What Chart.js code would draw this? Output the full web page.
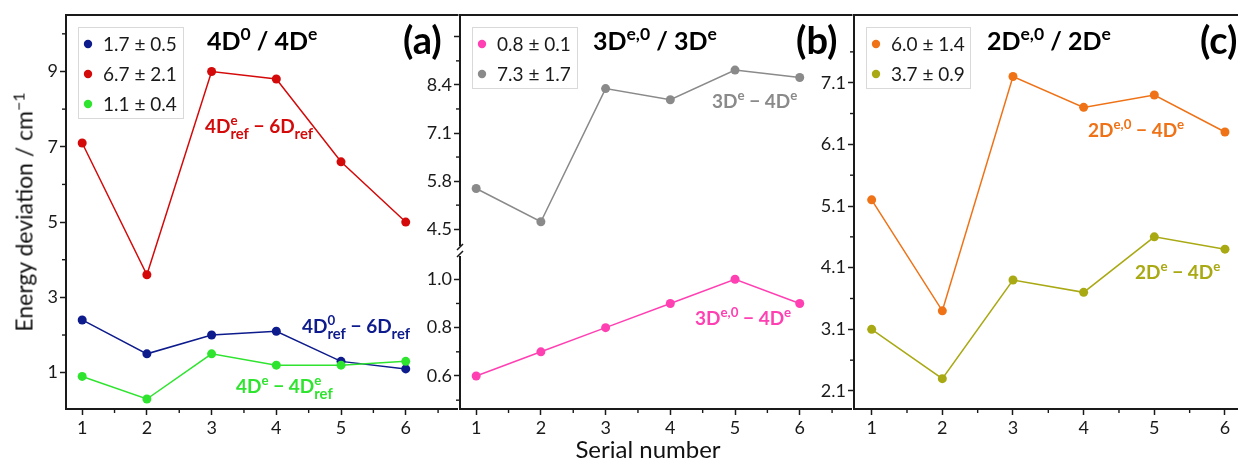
<!DOCTYPE html>
<html>
<head>
<meta charset="utf-8">
<script src="https://cdn.jsdelivr.net/npm/chart.js@4.4.1/dist/chart.umd.min.js"></script>
<style>
  body { margin: 0; width: 1238px; height: 460px; overflow: hidden; position: relative; background: #fff; font-family: Lato, sans-serif; color: #111; }
  canvas { position: absolute; top: 0; }
  #ytitle { position: absolute; left: 24px; top: 212px; transform: translate(-50%, -50%) rotate(-90deg); white-space: nowrap; font-size: 23px; line-height: 23px; }
  #ytitle sup { font-size: 16px; vertical-align: 8px; line-height: 0; }
  #xtitle { position: absolute; left: 648px; top: 437px; transform: translateX(-50%); white-space: nowrap; font-size: 24px; line-height: 24px; }
</style>
</head>
<body>
<canvas id="pa" width="462" height="460" style="left:0"></canvas>
<canvas id="pb" width="446" height="460" style="left:410px"></canvas>
<canvas id="pc" width="482" height="460" style="left:804px"></canvas>
<div id="ytitle">Energy deviation / cm<sup>−1</sup></div>
<div id="xtitle">Serial number</div>
<script>
// serial numbers shared by all three panels
const SERIAL = [1, 2, 3, 4, 5, 6];

// (a) 4D0 / 4De
const A_NAVY = [2.4, 1.5, 2.0, 2.1, 1.3, 1.1];
const A_RED = [7.1, 3.6, 9.0, 8.8, 6.6, 5.0];
const A_GREEN = [0.9, 0.3, 1.5, 1.2, 1.2, 1.3];
const A_LEGEND = ["1.7 ± 0.5", "6.7 ± 2.1", "1.1 ± 0.4"];
const A_TICKS = [1, 3, 5, 7, 9];

// (b) 3De,0 / 3De  (broken axis: lower and upper ranges)
const B_PINK = [0.6, 0.7, 0.8, 0.9, 1.0, 0.9];
const B_GRAY = [5.6, 4.7, 8.3, 8.0, 8.8, 8.6];
const B_LEGEND = ["0.8 ± 0.1", "7.3 ± 1.7"];
const B_TICKS_TOP = [4.5, 5.8, 7.1, 8.4, 9.7];
const B_LABELS_TOP = ["4.5", "5.8", "7.1", "8.4", ""];
const B_TICKS_BOT = [0.6, 0.8, 1.0];

// (c) 2De,0 / 2De
const C_ORANGE = [5.2, 3.4, 7.2, 6.7, 6.9, 6.3];
const C_OLIVE = [3.1, 2.3, 3.9, 3.7, 4.6, 4.4];
const C_LEGEND = ["6.0 ± 1.4", "3.7 ± 0.9"];
const C_TICKS = [2.1, 3.1, 4.1, 5.1, 6.1, 7.1];

const INK = "#1a1a1a";
const NAVY = "#0d1b8c", RED = "#d40a0a", GREEN = "#2fe42f";
const PINK = "#ff40b2", GRAY = "#8a8a8a", ORANGE = "#ef7217", OLIVE = "#a9a914";
const FONT = "Lato, 'Open Sans', sans-serif";

Chart.defaults.font.family = FONT;
Chart.defaults.color = INK;

const pts = (ys) => ys.map((y, i) => ({ x: SERIAL[i], y }));
// midpoints between major ticks, kept inside [lo, hi]
function mids(t, lo, hi) {
  const step = t[1] - t[0], out = [];
  for (let v = t[0] - step / 2; v <= hi + 1e-9; v += step) if (v >= lo) out.push(+v.toFixed(3));
  return out;
}

// text with ^{sup} and _{sub}; a sub right after a sup is stacked under it
function drawRich(ctx, x, y, s, size, weight, color) {
  const parts = [];
  const re = /\^\{([^}]*)\}|_\{([^}]*)\}|([^^_]+)/g;
  let m;
  while ((m = re.exec(s))) {
    if (m[1] !== undefined) parts.push({ t: m[1], k: "sup" });
    else if (m[2] !== undefined) parts.push({ t: m[2], k: "sub" });
    else parts.push({ t: m[3], k: "n" });
  }
  ctx.save();
  ctx.fillStyle = color;
  ctx.textAlign = "left";
  ctx.textBaseline = "alphabetic";
  let cx = x, lastSupW = 0;
  parts.forEach((p, i) => {
    const fs = p.k === "n" ? size : p.k === "sup" ? size * 0.7 : size * 0.78;
    ctx.font = `${weight} ${fs}px ${FONT}`;
    const w = ctx.measureText(p.t).width;
    if (p.k === "sub" && i > 0 && parts[i - 1].k === "sup") {
      const sx = cx - lastSupW;
      ctx.fillText(p.t, sx, y + size * 0.3);
      cx = sx + Math.max(w, lastSupW);
      return;
    }
    const dy = p.k === "sup" ? -size * 0.42 : p.k === "sub" ? size * 0.3 : 0;
    ctx.fillText(p.t, cx, y + dy);
    cx += w;
    if (p.k === "sup") lastSupW = w;
  });
  ctx.restore();
}

// inline plugin: top frame line, minor ticks, legend box, labels
function decor({ minors, legend, texts, breakAxis }) {
  return {
    id: "decor",
    beforeDatasetsDraw(chart) {
      const { ctx, chartArea: ca } = chart;
      ctx.save();
      ctx.strokeStyle = INK;
      ctx.lineWidth = 2;
      ctx.beginPath();
      ctx.moveTo(ca.left - 1, ca.top);
      ctx.lineTo(ca.right + 1, ca.top);
      ctx.stroke();
      ctx.lineWidth = 1.4;
      for (const [id, vals] of minors) {
        const s = chart.scales[id];
        for (const v of vals) {
          const p = s.getPixelForValue(v);
          ctx.beginPath();
          if (s.isHorizontal()) { ctx.moveTo(p, s.top); ctx.lineTo(p, s.top + 4); }
          else { ctx.moveTo(s.right, p); ctx.lineTo(s.right - 4, p); }
          ctx.stroke();
        }
      }
      ctx.restore();
    },
    afterDatasetsDraw(chart) {
      const { ctx, chartArea: ca } = chart;
      // legend box
      const lx = ca.left + 12, ly = ca.top + 12;
      const lh = legend.items.length * 30 + 1;
      ctx.save();
      ctx.fillStyle = "#fff";
      ctx.strokeStyle = "#d9d9d9";
      ctx.lineWidth = 1;
      ctx.fillRect(lx, ly, legend.w, lh);
      ctx.strokeRect(lx + 0.5, ly + 0.5, legend.w, lh);
      legend.items.forEach((it, i) => {
        const cy = ly + 17 + i * 30;
        ctx.fillStyle = it.color;
        ctx.beginPath();
        ctx.arc(lx + 10, cy, 4.2, 0, Math.PI * 2);
        ctx.fill();
        ctx.fillStyle = INK;
        ctx.font = `19px ${FONT}`;
        ctx.textBaseline = "middle";
        ctx.fillText(it.label, lx + 25, cy + 1);
      });
      ctx.restore();
      for (const t of texts) drawRich(ctx, ca.left + t.dx, ca.top + t.dy, t.s, t.size, "bold", t.color);
    },
    afterDraw(chart) {
      if (!breakAxis) return;
      const { ctx, chartArea: ca } = chart;
      const y = chart.scales[breakAxis].bottom;
      const x = ca.left;
      ctx.save();
      ctx.fillStyle = "#fff";
      ctx.fillRect(x - 3, y - 5, 6, 10);
      ctx.strokeStyle = INK;
      ctx.lineWidth = 1.5;
      ctx.beginPath();
      ctx.moveTo(x - 3, y - 1); ctx.lineTo(x + 3, y - 7);
      ctx.moveTo(x - 3, y + 6); ctx.lineTo(x + 3, y);
      ctx.stroke();
      ctx.restore();
    }
  };
}

const tickFont = { size: 18, family: FONT };
const yAxis = (min, max, ticks, labels, width, extra = {}) => ({
  type: "linear",
  min, max,
  afterBuildTicks: (s) => { s.ticks = ticks.map((v) => ({ value: v })); },
  afterFit: (s) => { s.width = width; },
  ticks: { font: tickFont, color: INK, padding: 2, autoSkip: false, callback: (v, i) => labels[i] },
  grid: { drawOnChartArea: false, drawTicks: true, tickLength: 6, tickWidth: 1.5, tickColor: INK },
  border: { display: true, color: INK, width: 2 },
  ...extra
});
const xAxis = {
  type: "linear",
  min: 0.75, max: 6.8,
  afterBuildTicks: (s) => { s.ticks = SERIAL.map((v) => ({ value: v })); },
  afterFit: (s) => { s.height = 51; },
  ticks: { font: tickFont, color: INK, padding: 2, autoSkip: false, maxRotation: 0, callback: (v) => String(v) },
  grid: { drawOnChartArea: false, drawTicks: true, tickLength: 6, tickWidth: 1.5, tickColor: INK },
  border: { display: true, color: INK, width: 2 }
};
const line = (data, color, extra = {}) => ({
  data: pts(data),
  borderColor: color,
  backgroundColor: color,
  borderWidth: 1.5,
  pointRadius: 4.5,
  pointBorderWidth: 0,
  pointHoverRadius: 4.5,
  ...extra
});
const baseOptions = (scales) => ({
  responsive: false,
  animation: false,
  layout: { padding: { top: 15, right: 2, left: 0, bottom: 0 } },
  plugins: { legend: { display: false }, tooltip: { enabled: false } },
  scales
});

// ---- (a) ----
new Chart(document.getElementById("pa"), {
  type: "line",
  data: {
    datasets: [
      line(A_GREEN, GREEN, { order: 0 }),
      line(A_NAVY, NAVY, { order: 1 }),
      line(A_RED, RED, { order: 2 })
    ]
  },
  options: baseOptions({
    x: xAxis,
    y: yAxis(0.035, 10.5, A_TICKS, A_TICKS.map(String), 66)
  }),
  plugins: [decor({
    minors: [["x", mids(SERIAL, 0.75, 6.8)], ["y", mids(A_TICKS, 0.035, 10.5)]],
    legend: { w: 105, items: [
      { color: NAVY, label: A_LEGEND[0] },
      { color: RED, label: A_LEGEND[1] },
      { color: GREEN, label: A_LEGEND[2] }
    ] },
    texts: [
      { s: "4D^{0} / 4D^{e}", dx: 141, dy: 35, size: 25, color: "#000" },
      { s: "(a)", dx: 337, dy: 39, size: 38, color: "#000" },
      { s: "4D^{e}_{ref} − 6D_{ref}", dx: 139, dy: 118, size: 19, color: RED },
      { s: "4D^{0}_{ref} − 6D_{ref}", dx: 236, dy: 318, size: 19, color: NAVY },
      { s: "4D^{e} − 4D^{e}_{ref}", dx: 170, dy: 378, size: 19, color: GREEN }
    ]
  })]
});

// ---- (b) broken y axis: two stacked scales ----
new Chart(document.getElementById("pb"), {
  type: "line",
  data: {
    datasets: [
      line(B_PINK, PINK, { yAxisID: "yBot" }),
      line(B_GRAY, GRAY, { yAxisID: "yTop" })
    ]
  },
  options: baseOptions({
    x: xAxis,
    yBot: yAxis(0.4635, 1.117, B_TICKS_BOT, B_TICKS_BOT.map((v) => v.toFixed(1)), 50, { position: "left", stack: "b", stackWeight: 158 }),
    yTop: yAxis(3.91, 10.29, B_TICKS_TOP, B_LABELS_TOP, 50, { position: "left", stack: "b", stackWeight: 236 })
  }),
  plugins: [decor({
    minors: [["x", mids(SERIAL, 0.75, 6.8)], ["yTop", mids(B_TICKS_TOP, 3.91, 10.29)], ["yBot", mids(B_TICKS_BOT, 0.4635, 1.05)]],
    legend: { w: 105, items: [
      { color: PINK, label: B_LEGEND[0] },
      { color: GRAY, label: B_LEGEND[1] }
    ] },
    texts: [
      { s: "3D^{e,0} / 3D^{e}", dx: 133, dy: 35, size: 25, color: "#000" },
      { s: "(b)", dx: 336, dy: 39, size: 38, color: "#000" },
      { s: "3D^{e} − 4D^{e}", dx: 252, dy: 93, size: 19, color: GRAY },
      { s: "3D^{e,0} − 4D^{e}", dx: 235, dy: 310, size: 19, color: PINK }
    ],
    breakAxis: "yTop"
  })]
});

// ---- (c) ----
new Chart(document.getElementById("pc"), {
  type: "line",
  data: {
    datasets: [
      line(C_ORANGE, ORANGE),
      line(C_OLIVE, OLIVE)
    ]
  },
  options: baseOptions({
    x: xAxis,
    y: yAxis(1.808, 8.198, C_TICKS, C_TICKS.map((v) => v.toFixed(1)), 50)
  }),
  plugins: [decor({
    minors: [["x", mids(SERIAL, 0.75, 6.8)], ["y", mids(C_TICKS, 1.808, 8.198)]],
    legend: { w: 104, items: [
      { color: ORANGE, label: C_LEGEND[0] },
      { color: OLIVE, label: C_LEGEND[1] }
    ] },
    texts: [
      { s: "2D^{e,0} / 2D^{e}", dx: 133, dy: 35, size: 25, color: "#000" },
      { s: "(c)", dx: 346, dy: 39, size: 38, color: "#000" },
      { s: "2D^{e,0} − 4D^{e}", dx: 234, dy: 122, size: 19, color: ORANGE },
      { s: "2D^{e} − 4D^{e}", dx: 281, dy: 264, size: 19, color: OLIVE }
    ]
  })]
});
</script>
</body>
</html>
